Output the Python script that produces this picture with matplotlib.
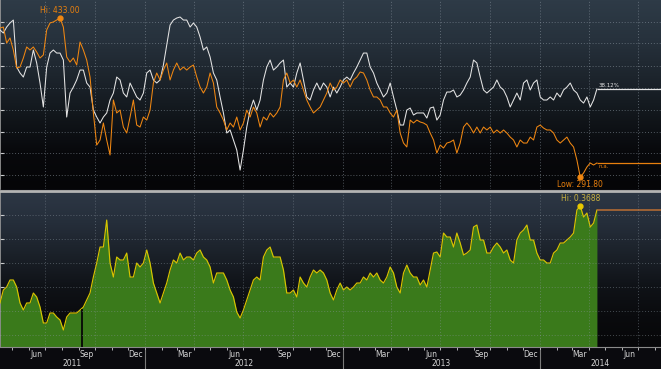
import numpy as np
import pandas as pd
import matplotlib
matplotlib.use('Agg')
import matplotlib.pyplot as plt
import matplotlib.dates as mdates
from matplotlib.colors import LinearSegmentedColormap
from matplotlib.transforms import blended_transform_factory

# sampled series, one value every step_days starting at start_day
start_day = '2011-04-08'
step_days = 6.17
view_end = '2014-08-13'
gap_day = '2011-09-06'  # hole in the ratio series

orange = [424.1, 425.0, 410.8, 415.3, 404.6, 388.6, 389.5, 397.5, 407.3, 404.6,
          407.3, 402.8, 397.5, 400.2, 422.4, 428.6, 429.5, 431.2, 433.0, 425.0,
          398.4, 393.9, 397.5, 391.3, 411.7, 404.6, 395.7, 380.6, 348.7, 320.2,
          324.7, 339.8, 324.7, 311.4, 360.2, 348.7, 351.3, 336.2, 330.9, 345.1,
          360.2, 338.0, 336.2, 345.1, 342.4, 351.3, 375.3, 384.2, 378.0, 386.8,
          393.1, 378.0, 386.8, 393.1, 386.8, 389.5, 386.8, 389.5, 391.3, 380.6,
          371.7, 366.4, 371.7, 384.2, 375.3, 354.0, 348.7, 342.4, 333.6, 339.8,
          336.2, 345.1, 333.6, 339.8, 351.3, 345.1, 354.0, 348.7, 336.2, 345.1,
          342.4, 348.7, 345.1, 348.7, 354.0, 378.0, 384.2, 375.3, 378.0, 371.7,
          378.0, 369.1, 360.2, 354.0, 348.7, 351.3, 354.0, 360.2, 366.4, 375.3,
          369.1, 371.7, 378.0, 375.3, 378.0, 371.7, 378.0, 380.6, 385.1, 384.2,
          378.0, 369.1, 362.9, 362.9, 360.2, 354.0, 354.0, 348.7, 345.1, 351.3,
          330.9, 322.0, 318.5, 342.4, 339.8, 342.4, 340.7, 339.8, 338.0, 330.9,
          324.7, 313.1, 320.2, 317.6, 322.0, 322.9, 324.7, 313.1, 322.0, 336.2,
          339.8, 336.2, 330.9, 336.2, 330.9, 336.2, 333.6, 336.2, 330.9, 333.6,
          330.9, 333.6, 330.9, 327.3, 324.7, 318.5, 324.7, 322.0, 322.0, 327.3,
          324.7, 336.2, 338.0, 335.3, 333.6, 333.6, 330.9, 324.7, 322.0, 324.7,
          327.3, 322.0, 318.5, 306.9, 291.8, 295.4, 300.7, 304.3, 302.5, 304.3]

white = [422.4, 419.7, 425.0, 428.6, 431.2, 389.5, 384.2, 380.6, 389.5, 389.5,
         404.6, 393.1, 375.3, 354.0, 389.5, 401.9, 404.6, 401.9, 401.9, 395.7,
         345.1, 366.4, 371.7, 378.0, 386.8, 386.8, 375.3, 371.7, 351.3, 345.1,
         339.8, 345.1, 348.7, 360.2, 366.4, 380.6, 378.0, 366.4, 362.9, 375.3,
         369.1, 362.9, 360.2, 366.4, 384.2, 386.8, 378.0, 375.3, 378.0, 391.3,
         409.0, 426.8, 431.2, 433.0, 433.9, 431.2, 431.2, 425.0, 428.6, 425.0,
         416.1, 404.6, 407.3, 398.4, 384.2, 378.0, 362.9, 348.7, 330.9, 333.6,
         324.7, 315.8, 298.0, 315.8, 336.2, 351.3, 360.2, 351.3, 360.2, 378.0,
         389.5, 395.7, 386.8, 389.5, 393.1, 395.7, 371.7, 375.3, 371.7, 384.2,
         393.1, 378.0, 362.9, 360.2, 369.1, 375.3, 369.1, 375.3, 371.7, 362.9,
         371.7, 366.4, 371.7, 378.0, 380.6, 378.0, 384.2, 389.5, 395.7, 401.9,
         401.9, 389.5, 384.2, 375.3, 369.1, 362.9, 366.4, 375.3, 362.9, 351.3,
         338.0, 338.0, 351.3, 353.1, 346.9, 348.7, 348.7, 348.7, 344.2, 353.1,
         354.0, 342.4, 346.9, 360.2, 367.3, 367.3, 369.1, 362.9, 364.6, 369.1,
         375.3, 380.6, 395.7, 393.1, 380.6, 369.1, 366.4, 369.1, 371.7, 378.0,
         371.7, 369.1, 362.9, 354.0, 360.2, 366.4, 360.2, 375.3, 378.0, 369.1,
         375.3, 378.0, 362.9, 360.2, 360.2, 362.9, 360.2, 366.4, 362.9, 369.1,
         371.7, 375.3, 369.1, 366.4, 360.2, 357.5, 362.9, 354.0, 360.2, 370.0]

ratio = [0.1667, 0.1938, 0.2000, 0.2146, 0.2146, 0.2000, 0.1667, 0.1521, 0.1667, 0.1667,
         0.1875, 0.1792, 0.1583, 0.1250, 0.1250, 0.1458, 0.1458, 0.1375, 0.1313, 0.1104,
         0.1375, 0.1458, 0.1458, 0.1458, 0.1521, 0.1583, 0.1729, 0.1875, 0.2208, 0.2500,
         0.2833, 0.2833, 0.3396, 0.2500, 0.2208, 0.2625, 0.2563, 0.2563, 0.2708, 0.2208,
         0.2208, 0.2500, 0.2417, 0.2500, 0.2771, 0.2500, 0.2083, 0.1875, 0.1667, 0.1875,
         0.2083, 0.2354, 0.2563, 0.2500, 0.2708, 0.2563, 0.2625, 0.2625, 0.2563, 0.2708,
         0.2771, 0.2625, 0.2563, 0.2417, 0.2083, 0.2292, 0.2292, 0.2292, 0.2146, 0.1938,
         0.1792, 0.1479, 0.1354, 0.1521, 0.1729, 0.1938, 0.2146, 0.2208, 0.2146, 0.2625,
         0.2771, 0.2833, 0.2625, 0.2625, 0.2625, 0.2354, 0.1875, 0.1875, 0.1938, 0.1792,
         0.2208, 0.2083, 0.2000, 0.2208, 0.2354, 0.2292, 0.2354, 0.2292, 0.2146, 0.1875,
         0.1729, 0.1938, 0.2083, 0.1938, 0.2000, 0.1938, 0.2000, 0.2083, 0.2083, 0.2208,
         0.2146, 0.2292, 0.2208, 0.2292, 0.2146, 0.2083, 0.2208, 0.2417, 0.2292, 0.2000,
         0.1875, 0.2292, 0.2458, 0.2292, 0.2208, 0.2208, 0.2042, 0.2146, 0.2000, 0.2354,
         0.2708, 0.2729, 0.2625, 0.3125, 0.3042, 0.3042, 0.2833, 0.3125, 0.2917, 0.2667,
         0.2708, 0.2771, 0.3250, 0.3292, 0.2979, 0.2979, 0.2708, 0.2708, 0.2833, 0.2917,
         0.2833, 0.2708, 0.2771, 0.2563, 0.2500, 0.2979, 0.3125, 0.3188, 0.3292, 0.2979,
         0.2979, 0.2708, 0.2563, 0.2563, 0.2500, 0.2500, 0.2708, 0.2771, 0.2917, 0.2917,
         0.2979, 0.3042, 0.3125, 0.3604, 0.3688, 0.3458, 0.3542, 0.3250, 0.3333, 0.3604]

white_label = '38.12%'
orange_label = 'n.a.'

dates = pd.to_datetime(start_day) + pd.to_timedelta(np.arange(len(orange)) * step_days, unit='D')
x = mdates.date2num(dates)
x0 = mdates.date2num(pd.Timestamp(start_day))
x1 = mdates.date2num(pd.Timestamp(view_end))
orange = np.array(orange)
white = np.array(white)
ratio = np.array(ratio)

W, H = 661, 369
fig = plt.figure(figsize=(W / 100, H / 100), dpi=100, facecolor='#0a0a0e')
ax1 = fig.add_axes([0, 1 - 189 / H, 1, 189 / H])
ax2 = fig.add_axes([0, 1 - 347 / H, 1, 155 / H])

top_lim = (281.2, 449.0)
bot_lim = (0.075, 0.398)
top_grid = [293.5, 313.0, 332.0, 351.5, 371.0, 390.5, 410.5, 429.5]
bot_grid = [0.10, 0.15, 0.20, 0.25, 0.30, 0.35]
quarters = mdates.date2num(pd.date_range('2011-07-01', '2014-07-01', freq='QS'))


def paint(ax, colors, lim):
    cmap = LinearSegmentedColormap.from_list('bg', colors)
    grad = np.linspace(0, 1, 256).reshape(-1, 1)
    ax.imshow(grad, extent=[x0, x1, lim[0], lim[1]], aspect='auto', cmap=cmap,
              origin='upper', zorder=0, interpolation='nearest')
    ax.set_xlim(x0, x1)
    ax.set_ylim(*lim)
    for s in ['top', 'right', 'bottom']:
        ax.spines[s].set_visible(False)
    ax.spines['left'].set_color('#9a9a9a')
    ax.spines['left'].set_linewidth(1.2)


def grid(ax, yvals, alpha):
    kw = dict(color='#8d98a3', lw=0.7, linestyle=(0, (1, 2)), alpha=alpha, zorder=4)
    for q in quarters:
        ax.axvline(q, **kw)
    for v in yvals:
        ax.axhline(v, **kw)


# top panel
paint(ax1, ['#2e3b47', '#27323d', '#1d252d', '#12171c', '#08090c', '#050507'], top_lim)
grid(ax1, top_grid, 0.55)
ax1.plot(x, white, color='#e4e4e4', lw=0.75, zorder=5)
ax1.plot(x, orange, color='#f08712', lw=0.75, zorder=6)
ax1.hlines(white[-1], x[-1], x1, color='#e4e4e4', lw=0.9, zorder=5)
ax1.hlines(orange[-1], x[-1], x1, color='#e8800e', lw=0.9, zorder=5)
ax1.set_xticks([])
ax1.set_yticks(top_grid)
ax1.tick_params(axis='y', direction='in', length=3, color='#d0d0d0', labelleft=False)

hi = int(np.argmax(orange))
lo = int(np.argmin(orange))
ax1.plot(x[hi], orange[hi], 'o', ms=3.5, color='#f08712', zorder=7)
ax1.annotate('Hi: %.2f' % orange[hi], (x[hi], orange[hi]), xytext=(0, 2.5),
             textcoords='offset points', ha='center', va='bottom',
             color='#e8800e', fontsize=5.5, zorder=8)
ax1.plot(x[lo], orange[lo], 'o', ms=3.5, color='#f08712', zorder=7)
ax1.annotate('Low: %.2f' % orange[lo], (x[lo], orange[lo]), xytext=(0, -2),
             textcoords='offset points', ha='center', va='top',
             color='#e8800e', fontsize=5.5, zorder=8)
ax1.annotate(white_label, (x[-1], white[-1]), xytext=(1, 0.5), textcoords='offset points',
             ha='left', va='bottom', color='#e4e4e4', fontsize=4, zorder=8)
ax1.annotate(orange_label, (x[-1], orange[-1]), xytext=(1, -0.5), textcoords='offset points',
             ha='left', va='top', color='#e8800e', fontsize=4, zorder=8)

# bottom panel
paint(ax2, ['#2d3745', '#252e3a', '#1b2129', '#101318', '#0a0b0e', '#070709'], bot_lim)
ax2.fill_between(x, ratio, bot_lim[0], color='#3a7a1b', lw=0, zorder=2)
ax2.plot(x, ratio, color='#d8c400', lw=0.85, zorder=3)
gx = mdates.date2num(pd.Timestamp(gap_day))
ax2.vlines(gx, bot_lim[0], np.interp(gx, x, ratio), color='#060606', lw=1.3, zorder=3.5)
ax2.hlines(ratio[-1], x[-1], x1, color='#b06a34', lw=1.2, zorder=3)
grid(ax2, bot_grid, 0.45)

rh = int(np.argmax(ratio))
ax2.plot(x[rh], ratio[rh], 'o', ms=3.5, color='#e8c800', zorder=7)
ax2.annotate('Hi: %.4f' % ratio[rh], (x[rh], ratio[rh]), xytext=(0, 2.5),
             textcoords='offset points', ha='center', va='bottom',
             color='#c8b040', fontsize=5.5, zorder=8)

ax2.spines['bottom'].set_visible(True)
ax2.spines['bottom'].set_color('#8a8a8a')
ax2.spines['bottom'].set_linewidth(0.8)
mids = pd.date_range('2011-06-01', '2014-06-01', freq='3MS') + pd.Timedelta(days=14)
ax2.set_xticks(mdates.date2num(mids))
ax2.set_xticklabels([d.strftime('%b') for d in mids])
ax2.set_xticks(mdates.date2num(pd.date_range('2011-05-01', '2014-08-01', freq='MS')), minor=True)
ax2.tick_params(axis='x', which='major', length=0, pad=2.5, labelsize=5.5, labelcolor='#d4d4d4')
ax2.tick_params(axis='x', which='minor', length=2.5, width=0.6, color='#d0d0d0', direction='out')
ax2.set_yticks(bot_grid)
ax2.tick_params(axis='y', direction='in', length=3, color='#d0d0d0', labelleft=False)

trans = blended_transform_factory(ax2.transData, ax2.transAxes)
for yr in [2011, 2012, 2013, 2014]:
    a = max(mdates.date2num(pd.Timestamp('%d-01-01' % yr)), x0)
    b = min(mdates.date2num(pd.Timestamp('%d-01-01' % (yr + 1))), x1)
    ax2.text((a + b) / 2, -0.105, str(yr), transform=trans, ha='center', va='center',
             color='#d4d4d4', fontsize=5.5)
    if yr > 2011:
        ax2.plot([a, a], [-0.02, -0.145], transform=trans, color='#7a7a7a', lw=0.8, clip_on=False)

# grey separator between the panels
fig.add_artist(plt.Line2D([0, 1], [1 - 190.5 / H] * 2, transform=fig.transFigure,
                          color='#b4b4b4', lw=2))

fig.savefig('out.png', dpi=100, facecolor=fig.get_facecolor())
